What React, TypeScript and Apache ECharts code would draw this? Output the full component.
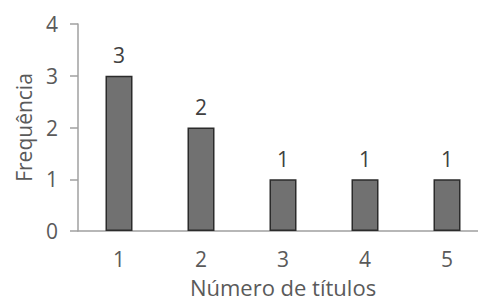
import React, { useEffect, useRef } from "react";
import * as echarts from "echarts";

const categories = ["1", "2", "3", "4", "5"];
const frequencies = [3, 2, 1, 1, 1];
const xAxisTitle = "Número de títulos";
const yAxisTitle = "Frequência";

export default function App() {
  const ref = useRef<HTMLDivElement>(null);
  useEffect(() => {
    const chart = echarts.init(ref.current!, null, { renderer: "svg" });
    const font = "Open Sans, Liberation Sans, Arial, sans-serif";
    chart.setOption({
      animation: false,
      backgroundColor: "#ffffff",
      grid: { left: 78, top: 24, bottom: 73, right: 0, containLabel: false, outerBoundsMode: "none" },
      xAxis: {
        type: "category",
        data: categories,
        name: xAxisTitle,
        nameLocation: "middle",
        nameGap: 45,
        nameTextStyle: { fontFamily: font, fontSize: 22, lineHeight: 22, color: "#5a5a5a" },
        axisLine: { show: true, lineStyle: { color: "#a0a0a0", width: 1.5 } },
        axisTick: { show: false },
        axisLabel: { fontFamily: font, fontSize: 21, color: "#5a5a5a", margin: 17 },
      },
      yAxis: {
        type: "value",
        min: 0,
        max: 4,
        interval: 1,
        name: yAxisTitle,
        nameLocation: "middle",
        nameGap: 44,
        nameTextStyle: { fontFamily: font, fontSize: 21, color: "#5a5a5a" },
        axisLine: { show: true, lineStyle: { color: "#a0a0a0", width: 1.5 } },
        axisTick: { show: true, inside: false, length: 8, lineStyle: { color: "#a0a0a0", width: 1.5 } },
        splitLine: { show: false },
        axisLabel: { fontFamily: font, fontSize: 21, color: "#5a5a5a", margin: 20 },
      },
      series: [
        {
          type: "bar",
          data: frequencies,
          barWidth: 27,
          itemStyle: { color: "#717171", borderColor: "#2b2b2b", borderWidth: 1.5 },
          label: {
            show: true,
            position: "top",
            distance: 10,
            fontFamily: font,
            fontSize: 21,
            color: "#404040",
          },
        },
      ],
    });
    return () => chart.dispose();
  }, []);
  return (
    <div style={{ width: 478, height: 304, position: "absolute", left: 0, top: 0, overflow: "hidden", background: "#fff" }}>
      <div ref={ref} style={{ width: 488, height: 304 }} />
    </div>
  );
}
